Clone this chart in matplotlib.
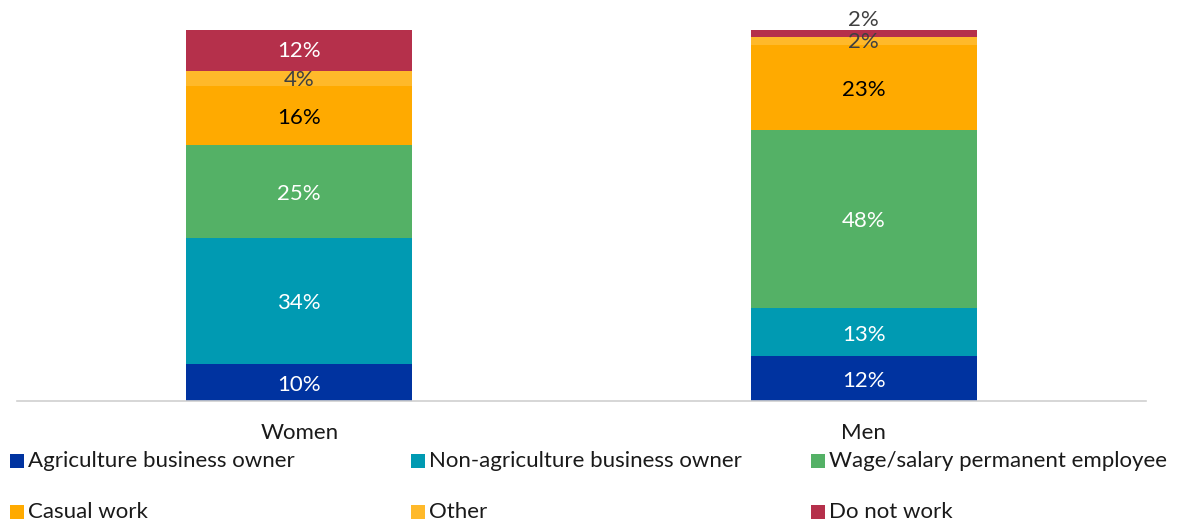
import matplotlib.pyplot as plt
from matplotlib.patches import Rectangle

plt.rcParams['font.family'] = ['Lato', 'DejaVu Sans']

groups = ["Women", "Men"]
categories = ["Agriculture business owner", "Non-agriculture business owner",
              "Wage/salary permanent employee", "Casual work", "Other", "Do not work"]
women = [10, 34, 25, 16, 4, 12]
men = [12, 13, 48, 23, 2, 2]
colors = ["#0033A0", "#009AB2", "#54B166", "#FFAA00", "#FFB92A", "#B5304B"]
label_colors = ["white", "white", "white", "black", "#404040", "white"]

W, H = 1179, 524
fig = plt.figure(figsize=(W / 100, H / 100), dpi=100)
ax = fig.add_axes([17 / W, 123 / H, (1146 - 17) / W, (401 - 30) / H])

series = [women, men]
x = range(len(groups))
width = 0.4
fs = 16
bottoms = [0, 0]
for i, cat in enumerate(categories):
    vals = [s[i] for s in series]
    ax.bar(x, vals, width, bottom=bottoms, color=colors[i], edgecolor='none')
    for j, (b, v) in enumerate(zip(bottoms, vals)):
        yc = b + v / 2 - 0.6
        col = label_colors[i]
        # thin top segment on the men's bar: label sits above the bar
        if v < 3 and i == len(categories) - 1:
            yc = b + v + 2.6
            col = "#404040"
        elif v < 3:
            yc = b + v / 2 - 0.3
            col = "#404040"
        ax.text(j, yc, f"{v}%", ha='center', va='center', color=col, fontsize=fs)
    bottoms = [b + v for b, v in zip(bottoms, vals)]

ax.set_xlim(-0.5, 1.5)
ax.set_ylim(0, 100)
for s in ['top', 'right', 'left']:
    ax.spines[s].set_visible(False)
ax.spines['bottom'].set_color('#d0d0d0')
ax.spines['bottom'].set_linewidth(1.2)
ax.set_yticks([])
ax.set_xticks(list(x))
ax.set_xticklabels(groups, fontsize=fs, color='#1a1a1a')
ax.tick_params(axis='x', length=0, pad=16)

# legend: three columns, two rows
col_x = [10, 411, 811]
row_y = [461, 512]
for k, cat in enumerate(categories):
    cx = col_x[k % 3]
    cy = row_y[k // 3]
    fig.patches.append(Rectangle((cx / W, (H - cy - 7) / H), 14 / W, 14 / H,
                                 transform=fig.transFigure, facecolor=colors[k],
                                 edgecolor='none'))
    fig.text((cx + 18) / W, (H - cy) / H, cat, ha='left', va='center',
             fontsize=fs, color='#1a1a1a')

fig.savefig("out.png", dpi=100)
